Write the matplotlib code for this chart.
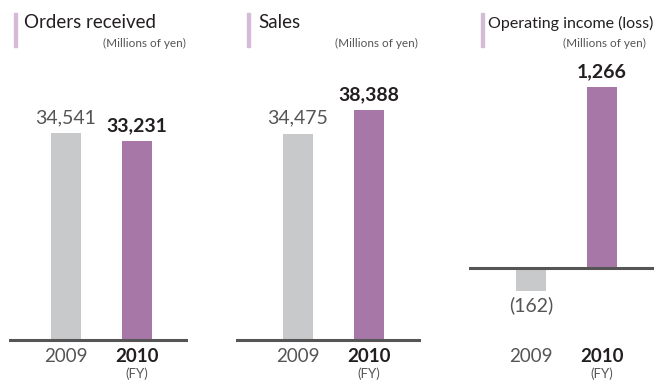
import matplotlib.pyplot as plt

plt.rcParams['font.family'] = ['Lato', 'DejaVu Sans']

years = ['2009', '2010']
orders = [34541, 33231]
sales = [34475, 38388]
op_income = [-162, 1266]
titles = ['Orders received', 'Sales', 'Operating income (loss)']

GRAY = '#c8c9cb'
PURPLE = '#a677a7'
LINE = '#555555'
DARK = '#231f20'
SOFT = '#555555'
MARK = '#d5bcd6'

W, H = 657, 380
fig = plt.figure(figsize=(W / 100, H / 100), dpi=100)


def px(x, y):
    return x / W, 1 - y / H


# pixel layout of each panel: left, right, baseline y, units per pixel, bar centre x
panels = [
    dict(vals=orders, left=9, right=188, base=340, scale=167, c0=66, step=71,
         bw=30, title_x=24, title_fs=13.5, mark_x=14, unit_r=186),
    dict(vals=sales, left=236, right=421, base=340, scale=167, c0=298, step=71,
         bw=30, title_x=258, title_fs=13.5, mark_x=247, unit_r=418),
    dict(vals=op_income, left=469, right=654, base=268, scale=7, c0=531, step=71,
         bw=30, title_x=488, title_fs=11.5, mark_x=481, unit_r=646),
]

for p, title in zip(panels, titles):
    ax = fig.add_axes([p['left'] / W, 0, (p['right'] - p['left']) / W, 1])
    ax.set_xlim((p['left'] - p['c0']) / p['step'], (p['right'] - p['c0']) / p['step'])
    ax.set_ylim(-(H - p['base']) * p['scale'], p['base'] * p['scale'])
    ax.axis('off')
    width = p['bw'] / p['step']
    ax.bar([0, 1], p['vals'], width=width, color=[GRAY, PURPLE], zorder=2)
    ax.axhline(0, color=LINE, lw=2.2, zorder=3)

    for i, v in enumerate(p['vals']):
        bold = i == 1
        if v >= 0:
            ax.annotate(f'{v:,}', (i, v), xytext=(0, 5), textcoords='offset points',
                        ha='center', va='bottom', fontsize=14,
                        fontweight='bold' if bold else 'normal',
                        color=DARK if bold else SOFT)
        else:
            ax.annotate(f'({-v:,})', (i, v), xytext=(0, -4), textcoords='offset points',
                        ha='center', va='top', fontsize=14, color=SOFT)

    # year labels under the axis
    for i, yr in enumerate(years):
        x_pix = p['c0'] + i * p['step']
        fig.text(*px(x_pix, 356), yr, ha='center', va='center', fontsize=13.5,
                 fontweight='bold' if i == 1 else 'normal',
                 color=DARK if i == 1 else SOFT)
    fig.text(*px(p['c0'] + p['step'], 374), '(FY)', ha='center', va='center',
             fontsize=9.5, color=SOFT)

    # panel heading with the small accent bar
    fig.add_artist(plt.Rectangle(px(p['mark_x'], 47), 3 / W, 34 / H,
                                 color=MARK, transform=fig.transFigure))
    fig.text(*px(p['title_x'], 23), title, ha='left', va='center',
             fontsize=p['title_fs'], color=DARK)
    fig.text(*px(p['unit_r'], 43), '(Millions of yen)', ha='right', va='center',
             fontsize=8.5, color=SOFT)

fig.savefig('out.png', dpi=100)
